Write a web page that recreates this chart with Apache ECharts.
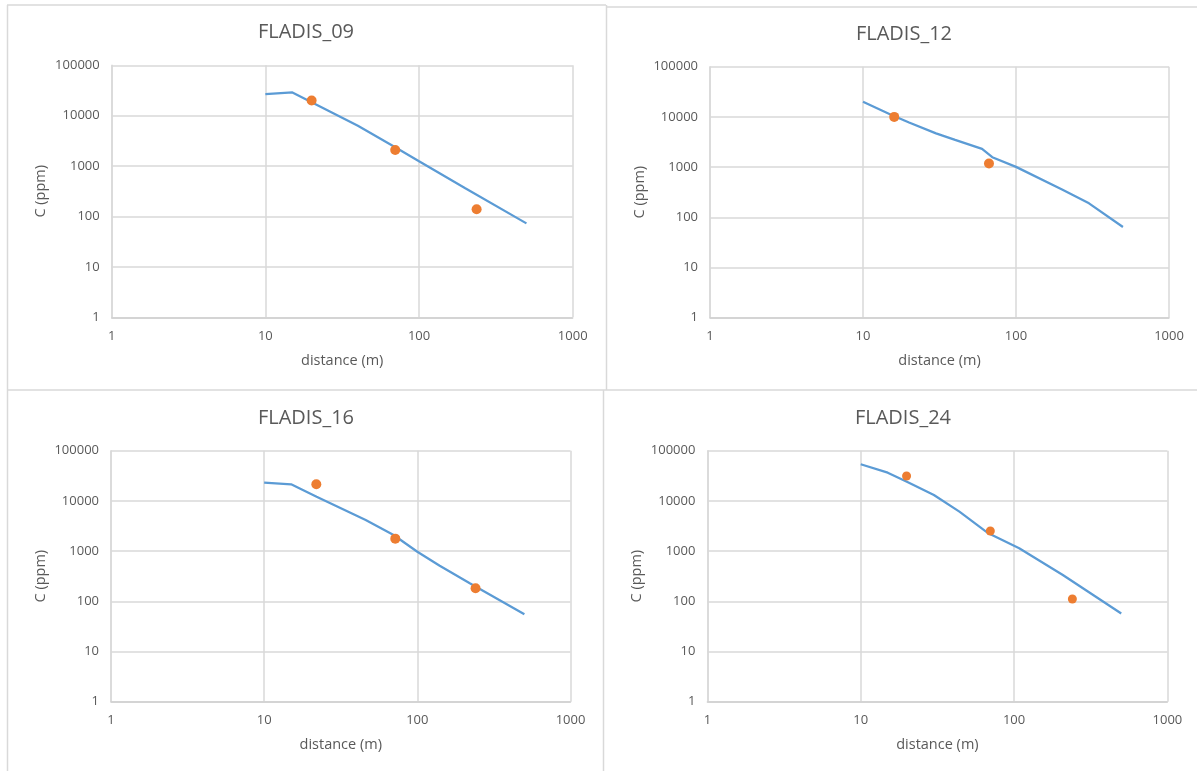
<!DOCTYPE html>
<html>
<head>
<meta charset="utf-8">
<script src="https://cdn.jsdelivr.net/npm/echarts@6/dist/echarts.min.js"></script>
<style>
  html, body { margin: 0; padding: 0; background: #fff; }
  #main { width: 1197px; height: 771px; }
</style>
</head>
<body>
<div id="main"></div>
<script>
// panel titles
const titles = ['FLADIS_09', 'FLADIS_12', 'FLADIS_16', 'FLADIS_24'];

// model curves (distance m, concentration ppm)
const dist09 = [10, 15, 20, 40, 70, 100, 200, 500];
const conc09 = [26900, 29000, 18500, 6300, 2370, 1250, 365, 73];
const dist12 = [10, 15, 20, 30, 40, 60, 70, 100, 200, 300, 500];
const conc12 = [20000, 11300, 7730, 4700, 3480, 2300, 1575, 1010, 358, 190, 64];
const dist16 = [10, 15, 22, 46, 70, 100, 140, 220, 500];
const conc16 = [23000, 21400, 12100, 4150, 2090, 972, 510, 228, 55];
const dist24 = [10, 15, 20, 30, 44, 68, 108, 208, 500];
const conc24 = [53600, 36500, 24100, 13100, 6100, 2260, 1140, 334, 57];

// measured points
const obsDist09 = [20, 70, 237];
const obsConc09 = [20000, 2090, 139];
const obsDist12 = [16, 66.6];
const obsConc12 = [10000, 1180];
const obsDist16 = [21.9, 71.8, 240];
const obsConc16 = [21400, 1770, 182];
const obsDist24 = [19.9, 70, 240];
const obsConc24 = [31300, 2515, 111];

const xTicks = [1, 10, 100, 1000];
const yTicks = [1, 10, 100, 1000, 10000, 100000];

const panels = [
  { dist: dist09, conc: conc09, od: obsDist09, oc: obsConc09, grid: { left: 111.7, top: 65.3, width: 461, height: 252 }, titleX: 306, titleY: 22, dot: 10 },
  { dist: dist12, conc: conc12, od: obsDist12, oc: obsConc12, grid: { left: 710, top: 66.7, width: 459, height: 251 }, titleX: 904, titleY: 24, dot: 10 },
  { dist: dist16, conc: conc16, od: obsDist16, oc: obsConc16, grid: { left: 111, top: 450.7, width: 459.5, height: 251 }, titleX: 306, titleY: 408, dot: 10 },
  { dist: dist24, conc: conc24, od: obsDist24, oc: obsConc24, grid: { left: 707.4, top: 450.7, width: 460, height: 251 }, titleX: 903, titleY: 408, dot: 9 }
];

const fontFam = '"Open Sans", "Noto Sans", sans-serif';
const txt = '#595959';
const gridCol = '#d9d9d9';

const pair = (xs, ys) => xs.map((x, i) => [x, ys[i]]);
const fmt = v => String(Math.round(v));

const option = {
  animation: false,
  backgroundColor: '#fff',
  textStyle: { fontFamily: fontFam },
  title: panels.map((p, i) => ({
    text: titles[i],
    left: p.titleX,
    top: p.titleY,
    textAlign: 'center',
    padding: 0,
    textStyle: { color: txt, fontSize: 20, fontWeight: 'normal', fontFamily: fontFam }
  })),
  grid: panels.map(p => Object.assign({ containLabel: false }, p.grid)),
  xAxis: panels.map((p, i) => ({
    gridIndex: i,
    type: 'log',
    logBase: 10,
    min: xTicks[0],
    max: xTicks[xTicks.length - 1],
    name: 'distance (m)',
    nameLocation: 'middle',
    nameGap: 36,
    nameTextStyle: { color: txt, fontSize: 14.5, fontFamily: fontFam },
    axisLine: { show: true, lineStyle: { color: '#d0d0d0', width: 1.5 } },
    axisTick: { show: false },
    axisLabel: { color: txt, fontSize: 13, margin: 12, formatter: fmt },
    splitLine: { show: true, lineStyle: { color: gridCol, width: 1.5 } }
  })),
  yAxis: panels.map((p, i) => ({
    gridIndex: i,
    type: 'log',
    logBase: 10,
    min: yTicks[0],
    max: yTicks[yTicks.length - 1],
    name: 'C (ppm)',
    nameLocation: 'middle',
    nameGap: 63,
    nameTextStyle: { color: txt, fontSize: 14.5, fontFamily: fontFam },
    axisLine: { show: true, lineStyle: { color: gridCol, width: 1.5 } },
    axisTick: { show: false },
    axisLabel: { color: txt, fontSize: 13, margin: 12, formatter: fmt },
    splitLine: { show: true, lineStyle: { color: gridCol, width: 1.5 } }
  })),
  series: panels.flatMap((p, i) => [
    {
      type: 'line',
      xAxisIndex: i,
      yAxisIndex: i,
      data: pair(p.dist, p.conc),
      showSymbol: false,
      symbol: 'none',
      lineStyle: { color: '#5b9bd5', width: 2.25 },
      z: 2
    },
    {
      type: 'scatter',
      xAxisIndex: i,
      yAxisIndex: i,
      data: pair(p.od, p.oc),
      symbolSize: p.dot,
      itemStyle: { color: '#ed7d31', opacity: 1 },
      z: 3
    }
  ]),
  // panel frames
  graphic: [
    [7, 5, 606, 5], [7.5, 5, 7.5, 771], [606.5, 5, 606.5, 390],
    [607, 7, 1197, 7], [7, 390, 1197, 390], [603.5, 390, 603.5, 771]
  ].map(l => ({
    type: 'line',
    silent: true,
    shape: { x1: l[0], y1: l[1], x2: l[2], y2: l[3] },
    style: { stroke: '#d9d9d9', lineWidth: 1.5 }
  }))
};

const chart = echarts.init(document.getElementById('main'));
chart.setOption(option);
</script>
</body>
</html>
